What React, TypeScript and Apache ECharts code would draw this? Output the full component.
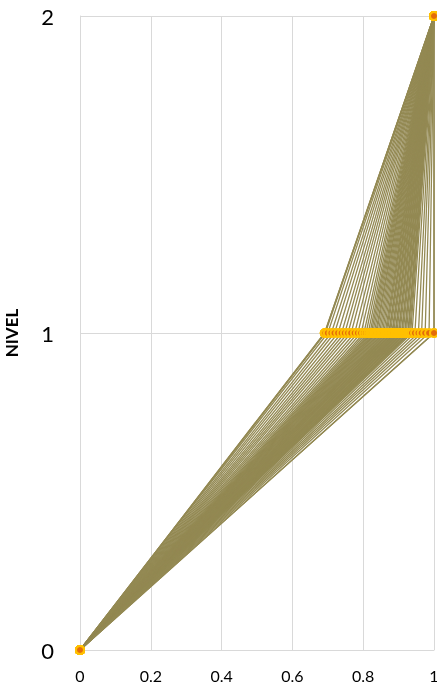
import React, { useEffect, useRef } from "react";
import * as echarts from "echarts";

// Levels on the vertical axis
const LEVELS = [0, 1, 2];
// Share reached at each level for every path
const START_X = 0;
const END_X = 1;
const MID_X = [
  0.691, 0.691, 0.693, 0.700, 0.710, 0.719, 0.729, 0.739, 0.748, 0.757,
  0.766, 0.776, 0.785, 0.794, 0.802, 0.808, 0.814, 0.819, 0.823, 0.827,
  0.831, 0.835, 0.838, 0.842, 0.846, 0.850, 0.854, 0.858, 0.862, 0.865,
  0.868, 0.872, 0.874, 0.877, 0.881, 0.883, 0.886, 0.890, 0.892, 0.895,
  0.899, 0.901, 0.904, 0.908, 0.910, 0.913, 0.917, 0.919, 0.922, 0.926,
  0.928, 0.931, 0.934, 0.938, 0.946, 0.956, 0.965, 0.975, 0.986, 1.0, 1.0,
];
const X_TICKS = [0, 0.2, 0.4, 0.6, 0.8, 1];

const LINE_COLOR = "#938953";
const MARKER_FILL = "#E46C0A";
const MARKER_EDGE = "#FFC000";
const GRID_COLOR = "#D9D9D9";
const FONT = "Lato, 'Noto Sans', sans-serif";

export default function App() {
  const ref = useRef<HTMLDivElement>(null);

  useEffect(() => {
    if (!ref.current) return;
    const chart = echarts.init(ref.current, undefined, { renderer: "svg" });

    const paths = MID_X.map((m) => [
      [START_X, LEVELS[0]],
      [m, LEVELS[1]],
      [END_X, LEVELS[2]],
    ]);

    const lineSeries = paths.map((p, i) => ({
      type: "line" as const,
      name: "p" + i,
      data: p,
      symbol: "none",
      silent: true,
      z: 2,
      lineStyle: { color: LINE_COLOR, width: 1.3 },
    }));

    const points = paths.flat();

    chart.setOption({
      animation: false,
      grid: {
        left: 80,
        right: 3,
        top: 16,
        bottom: 39,
        containLabel: false,
        outerBoundsMode: "none",
      },
      xAxis: {
        type: "value",
        min: X_TICKS[0],
        max: X_TICKS[X_TICKS.length - 1],
        interval: 0.2,
        axisLine: { show: true, lineStyle: { color: GRID_COLOR, width: 1 } },
        axisTick: { show: false },
        splitLine: { show: true, lineStyle: { color: GRID_COLOR, width: 1 } },
        axisLabel: {
          color: "#000",
          fontSize: 16,
          fontFamily: FONT,
          margin: 17,
          hideOverlap: false,
        },
      },
      yAxis: {
        type: "value",
        min: LEVELS[0],
        max: LEVELS[LEVELS.length - 1],
        interval: 1,
        name: "NIVEL",
        nameLocation: "middle",
        nameRotate: 90,
        nameGap: 60,
        nameTextStyle: {
          color: "#000",
          fontSize: 17,
          fontWeight: "bold",
          fontFamily: FONT,
        },
        axisLine: { show: true, lineStyle: { color: GRID_COLOR, width: 1 } },
        axisTick: { show: false },
        splitLine: { show: true, lineStyle: { color: GRID_COLOR, width: 1 } },
        axisLabel: {
          color: "#000",
          fontSize: 22,
          fontFamily: FONT,
          margin: 26,
        },
      },
      series: [
        ...lineSeries,
        {
          type: "scatter",
          data: points,
          symbol: "circle",
          symbolSize: 8,
          silent: true,
          z: 3,
          itemStyle: {
            color: MARKER_FILL,
            borderColor: MARKER_EDGE,
            borderWidth: 2,
            opacity: 1,
          },
        },
      ],
    });

    return () => chart.dispose();
  }, []);

  return (
    <div
      ref={ref}
      style={{ position: "fixed", left: 0, top: 0, width: 437, height: 689 }}
    />
  );
}
